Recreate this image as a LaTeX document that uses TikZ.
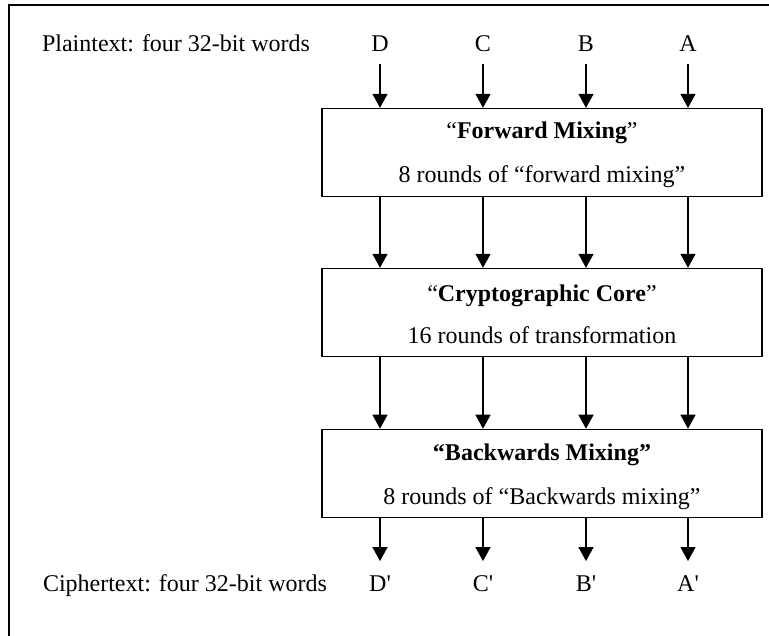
\documentclass[tikz,border=0pt]{standalone}
\usepackage{fontspec}
\setmainfont{Liberation Serif}
\usetikzlibrary{arrows.meta}
\begin{document}
\begin{tikzpicture}[x=1pt,y=1pt,
  every node/.style={font=\fontsize{18}{21}\selectfont},
  word/.style={inner sep=0pt,outer sep=0pt,anchor=base,text height=12pt,text depth=0pt},
  stage/.style={draw=drawColor,line width=1.1pt,minimum width=330pt,minimum height=66pt,inner sep=0pt},
  flow/.style={draw=drawColor,line width=1.1pt,-{Triangle[width=11.25pt,length=10.5pt]}}]
\definecolor{drawColor}{RGB}{0,0,0}
\path[use as bounding box] (0,0) rectangle (576.75,477.00);

% frame
\path[draw=drawColor,line width=1.9pt] (6.75,0.00) -- (6.75,473.25) -- (576.75,473.25);

% words in and out
\node[word,anchor=base west] (plain) at (31.50,438.20) {Plaintext: four 32-bit words};
\node[word,anchor=base west] (cipher) at (32.25,33.20) {Ciphertext: four 32-bit words};
\foreach \w/\x in {D/285.00,C/362.25,B/439.50,A/516.00} {
  \node[word] (in\w) at (\x,438.20) {\w};
  \node[word] (out\w) at (\x,33.20) {\w\textquotesingle};
}

% stages
\node[stage] (fwd) at (406.50,362.60) {};
\node[word] (fwdname) at (406.50,372.75) {“\textbf{Forward Mixing}”};
\node[word] (fwdrounds) at (406.50,339.75) {8 rounds of “forward mixing”};

\node[stage] (core) at (406.50,242.60) {};
\node[word] (corename) at (406.50,250.50) {“\textbf{Cryptographic Core}”};
\node[word] (corerounds) at (406.50,219.00) {16 rounds of transformation};

\node[stage] (bwd) at (406.50,121.90) {};
\node[word] (bwdname) at (406.50,131.25) {\textbf{“Backwards Mixing”}};
\node[word] (bwdrounds) at (406.50,98.25) {8 rounds of “Backwards mixing”};

% arrows
\foreach \w in {D,C,B,A} {
  \draw[flow,shorten <=9.2pt] (in\w) -- (in\w |- fwd.north);
  \draw[flow] (in\w |- fwd.south) -- (in\w |- core.north);
  \draw[flow] (in\w |- core.south) -- (in\w |- bwd.north);
  \draw[flow,shorten >=11pt] (out\w |- bwd.south) -- (out\w);
}
\end{tikzpicture}
\end{document}
